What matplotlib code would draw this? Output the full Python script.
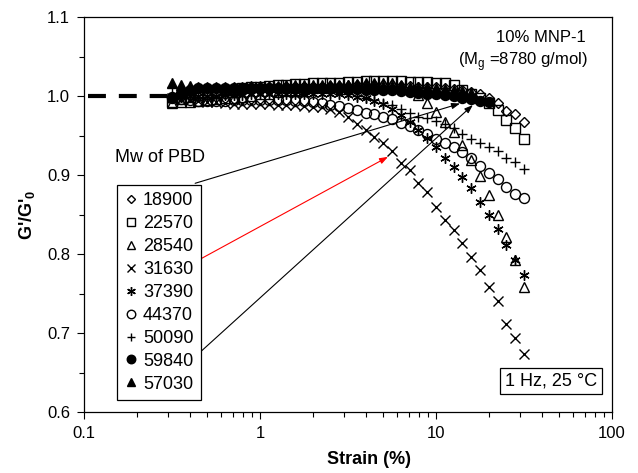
import matplotlib
matplotlib.use("Agg")
import matplotlib.pyplot as plt
from matplotlib.ticker import FixedLocator, MultipleLocator, FixedFormatter

plt.rcParams["font.family"] = ["Liberation Sans", "DejaVu Sans"]
plt.rcParams["mathtext.fontset"] = "custom"
plt.rcParams["mathtext.rm"] = "Liberation Sans"
plt.rcParams["mathtext.bf"] = "Liberation Sans:bold"

# strain grid (%), shared by all series
strain = [0.316, 0.355, 0.398, 0.447, 0.501, 0.562, 0.631, 0.708, 0.794, 0.891,
          1.00, 1.12, 1.26, 1.41, 1.58, 1.78, 2.00, 2.24, 2.51, 2.82,
          3.16, 3.55, 3.98, 4.47, 5.01, 5.62, 6.31, 7.08, 7.94, 8.91,
          10.0, 11.2, 12.6, 14.1, 15.8, 17.8, 20.0, 22.4, 25.1, 28.2, 31.6]

mw_labels = ["18900", "22570", "28540", "31630", "37390", "44370", "50090", "59840", "57030"]

g_18900 = [0.998, 0.999, 1.000, 1.000, 1.001, 1.002, 1.003, 1.004, 1.005, 1.006,
           1.007, 1.008, 1.009, 1.010, 1.010, 1.011, 1.012, 1.012, 1.013, 1.013,
           1.013, 1.014, 1.014, 1.014, 1.014, 1.014, 1.013, 1.013, 1.012, 1.012,
           1.011, 1.010, 1.009, 1.007, 1.005, 1.002, 0.997, 0.991, 0.981, 0.977, 0.967]
g_22570 = [0.993, 0.996, 0.999, 1.001, 1.003, 1.005, 1.007, 1.008, 1.010, 1.011,
           1.012, 1.013, 1.014, 1.014, 1.015, 1.015, 1.016, 1.016, 1.017, 1.017,
           1.018, 1.018, 1.019, 1.019, 1.019, 1.019, 1.019, 1.018, 1.018, 1.018,
           1.017, 1.016, 1.014, 1.008, 1.003, 0.997, 0.991, 0.982, 0.970, 0.959, 0.946]
g_28540 = [0.991, 0.992, 0.993, 0.994, 0.995, 0.996, 0.997, 0.998, 0.999, 1.000,
           1.002, 1.003, 1.005, 1.006, 1.008, 1.009, 1.010, 1.011, 1.012, 1.013,
           1.014, 1.015, 1.016, 1.017, 1.017, 1.017, 1.014, 1.009, 1.001, 0.991,
           0.980, 0.967, 0.955, 0.938, 0.919, 0.899, 0.875, 0.849, 0.821, 0.792, 0.758]
g_31630 = [0.997, 0.996, 0.995, 0.994, 0.993, 0.992, 0.991, 0.990, 0.990, 0.990,
           0.990, 0.990, 0.989, 0.988, 0.988, 0.987, 0.986, 0.986, 0.984, 0.980,
           0.974, 0.965, 0.957, 0.948, 0.940, 0.931, 0.915, 0.906, 0.890, 0.878,
           0.859, 0.843, 0.830, 0.814, 0.796, 0.780, 0.758, 0.741, 0.712, 0.694, 0.674]
g_37390 = [0.999, 0.999, 1.000, 1.000, 1.000, 1.000, 1.001, 1.001, 1.001, 1.002,
           1.002, 1.002, 1.003, 1.003, 1.003, 1.003, 1.003, 1.003, 1.002, 1.002,
           1.001, 0.999, 0.997, 0.994, 0.990, 0.984, 0.976, 0.967, 0.957, 0.947,
           0.935, 0.921, 0.910, 0.897, 0.883, 0.866, 0.849, 0.832, 0.811, 0.792, 0.773]
g_44370 = [0.997, 0.996, 0.995, 0.994, 0.994, 0.994, 0.994, 0.995, 0.995, 0.995,
           0.995, 0.995, 0.995, 0.995, 0.994, 0.994, 0.993, 0.991, 0.989, 0.987,
           0.985, 0.982, 0.979, 0.977, 0.974, 0.971, 0.966, 0.962, 0.957, 0.952,
           0.946, 0.941, 0.935, 0.929, 0.921, 0.911, 0.902, 0.895, 0.885, 0.876, 0.871]
g_50090 = [1.012, 1.010, 1.008, 1.007, 1.006, 1.006, 1.006, 1.006, 1.006, 1.006,
           1.006, 1.006, 1.006, 1.006, 1.006, 1.006, 1.005, 1.005, 1.004, 1.003,
           1.002, 1.000, 0.998, 0.995, 0.991, 0.989, 0.984, 0.978, 0.974, 0.972,
           0.968, 0.964, 0.960, 0.952, 0.946, 0.940, 0.935, 0.930, 0.921, 0.916, 0.907]
g_59840 = [0.999, 1.004, 1.008, 1.010, 1.010, 1.010, 1.010, 1.010, 1.010, 1.010,
           1.010, 1.010, 1.010, 1.010, 1.010, 1.010, 1.010, 1.010, 1.010, 1.010,
           1.009, 1.009, 1.008, 1.008, 1.007, 1.007, 1.006, 1.005, 1.004, 1.003,
           1.002, 1.001, 1.000, 0.998, 0.996, 0.994, 0.992]
g_57030 = [1.016, 1.014, 1.013, 1.012, 1.012, 1.012, 1.012, 1.012, 1.012, 1.013,
           1.013, 1.013, 1.013, 1.014, 1.014, 1.014, 1.014, 1.014, 1.014, 1.014,
           1.014, 1.014, 1.014, 1.014, 1.013, 1.013, 1.013, 1.012, 1.012, 1.011,
           1.010, 1.009, 1.008, 1.006, 1.004]

series = [g_18900, g_22570, g_28540, g_31630, g_37390, g_44370, g_50090, g_59840, g_57030]

# dashed reference line at G'/G'0 = 1
ref_strain = [0.105, 0.30]
ref_value = [1.0, 1.0]

# arrows from legend labels to curves: (strain, value)
arrow_start = [(0.428, 0.8895), (0.428, 0.790), (0.428, 0.670)]
arrow_end = [(13.7, 0.9905), (5.34, 0.923), (16.2, 0.9886)]
arrow_colors = ["black", "red", "black"]

y_ticks = [0.6, 0.7, 0.8, 0.9, 1.0, 1.1]
x_ticks = [0.1, 1, 10, 100]
x_tick_labels = ["0.1", "1", "10", "100"]

styles = [
    dict(marker="D", ms=5.0, mfc="none"),
    dict(marker="s", ms=6.6, mfc="none"),
    dict(marker="^", ms=7.4, mfc="none"),
    dict(marker="x", ms=7.0),
    dict(marker=(6, 2, 0), ms=7.4),
    dict(marker="o", ms=7.2, mfc="none"),
    dict(marker="+", ms=7.6),
    dict(marker="o", ms=7.2, mfc="black"),
    dict(marker="^", ms=7.4, mfc="black"),
]

fig = plt.figure(figsize=(6.38, 4.73), dpi=100)
ax = fig.add_axes([84 / 638, 1 - 412 / 473, 528 / 638, 395 / 473])

ax.plot(ref_strain, ref_value, color="black", lw=3, linestyle=(0, (4.3, 3.1)),
        solid_capstyle="butt", dash_capstyle="butt")

handles = []
for vals, label, st in zip(series, mw_labels, styles):
    (h,) = ax.plot(strain[:len(vals)], vals, linestyle="none", color="black",
                   mec="black", mew=1.0, label=label, **st)
    handles.append(h)

for (x0, y0), (x1, y1), c in zip(arrow_start, arrow_end, arrow_colors):
    ax.annotate("", xy=(x1, y1), xytext=(x0, y0),
                arrowprops=dict(arrowstyle="-|>,head_length=0.5,head_width=0.18",
                                color=c, lw=0.8, shrinkA=0, shrinkB=0))

ax.set_xscale("log")
ax.set_xlim(0.1, 100)
ax.set_ylim(0.6, 1.1)
ax.xaxis.set_major_locator(FixedLocator(x_ticks))
ax.xaxis.set_major_formatter(FixedFormatter(x_tick_labels))
ax.yaxis.set_major_locator(FixedLocator(y_ticks))
ax.yaxis.set_major_formatter(plt.FuncFormatter(lambda v, p: f"{v:.1f}"))
ax.yaxis.set_minor_locator(MultipleLocator(0.05))
ax.tick_params(which="major", direction="out", length=5, width=0.8, labelsize=12, pad=5)
ax.tick_params(which="minor", direction="out", length=3.5, width=0.8)
ax.tick_params(top=False, right=False, which="both")
for sp in ax.spines.values():
    sp.set_linewidth(0.9)

ax.set_xlabel("Strain (%)", fontsize=13, fontweight="bold")
ax.xaxis.set_label_coords((369 - 84) / 528, -0.098)
ax.set_ylabel(r"G'/G'$_\mathbf{0}$", fontsize=13, fontweight="bold", labelpad=7)

leg = ax.legend(handles=handles, loc="lower left", bbox_to_anchor=(0.0619, 0.0304),
                borderaxespad=0, fontsize=13, frameon=True, fancybox=False,
                edgecolor="black", framealpha=1, borderpad=0.4, handlelength=0.8,
                handletextpad=0.25, labelspacing=0.33, markerscale=0.85)
leg.get_frame().set_linewidth(0.9)

ax.text(0.0587, 0.633, "Mw of PBD", transform=ax.transAxes, fontsize=13,
        ha="left", va="baseline")
ax.text(0.781, 0.948, "10% MNP-1", transform=ax.transAxes, fontsize=12,
        ha="left", va="center")
ax.text(0.709, 0.887, r"(M$_\mathrm{g}$ =8780 g/mol)", transform=ax.transAxes,
        fontsize=12, ha="left", va="center")
ax.text(0.8845, 0.0785, "1 Hz, 25 °C", transform=ax.transAxes, fontsize=13,
        ha="center", va="center",
        bbox=dict(boxstyle="square,pad=0.25", fc="white", ec="black", lw=0.9))

fig.savefig("out.png", dpi=100)
